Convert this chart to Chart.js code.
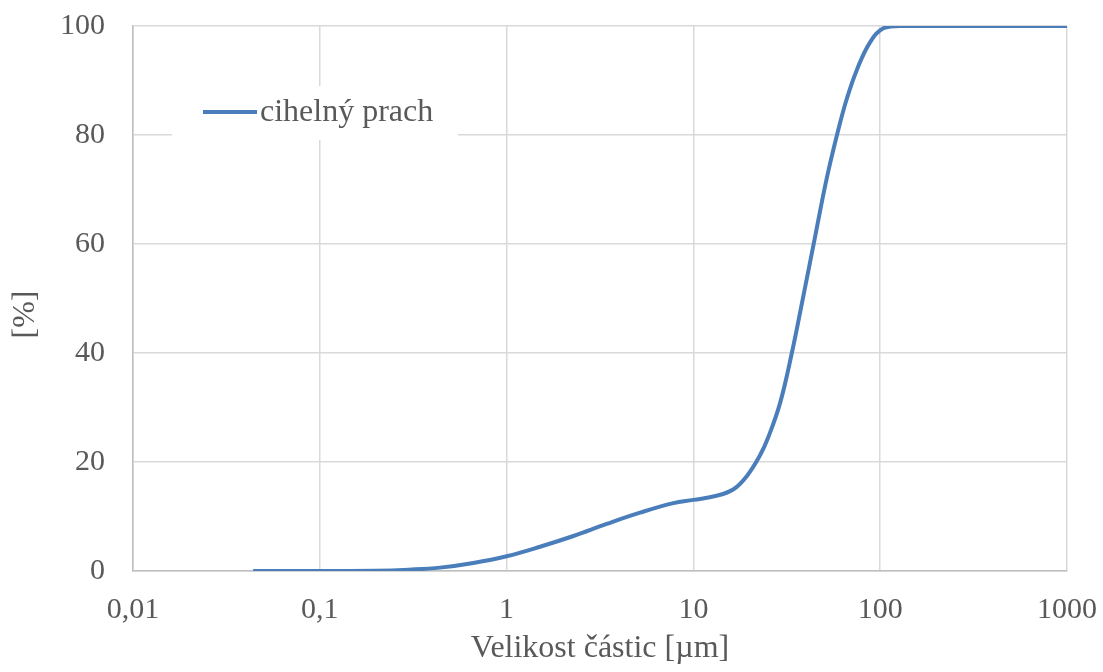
<!DOCTYPE html>
<html>
<head>
<meta charset="utf-8">
<script src="https://cdn.jsdelivr.net/npm/chart.js@4"></script>
<style>
  body { margin: 0; background: #fff; }
  #wrap { width: 1103px; height: 672px; }
</style>
</head>
<body>
<div id="wrap"><canvas id="chartPrach" width="1103" height="672"></canvas></div>
<script>
// velikost částic [µm] a propad [%]
const sizes  = [0.044, 0.1, 0.2, 0.3, 0.44, 0.664, 1, 1.51, 2.28, 3.43, 5.18, 7.81, 10, 13.3, 16.4, 19.3, 22.7, 25.2, 29.1, 33.6, 38.8, 44.8, 51.7, 59.7, 66.2, 74.9, 88.2, 104, 130, 1000];
const values = [0, 0, 0.05, 0.25, 0.62, 1.48, 2.71, 4.45, 6.42, 8.63, 10.7, 12.45, 13.05, 13.8, 15.0, 17.4, 21.2, 24.6, 30.8, 39.9, 50.5, 61.3, 72.0, 81.0, 86.6, 91.9, 97.0, 99.6, 100, 100];
const seriesName = 'cihelný prach';
const xTicks = [0.01, 0.1, 1, 10, 100, 1000];
const xTickLabels = ['0,01', '0,1', '1', '10', '100', '1000'];
const yTicks = [0, 20, 40, 60, 80, 100];

const textColor = '#595959';
const gridColor = '#d9d9d9';
const lineColor = '#4a7ebb';
const fontFamily = '"Liberation Serif", "Times New Roman", serif';

// legenda uvnitř grafu (bílý box přes mřížku)
const insideLegend = {
  id: 'insideLegend',
  afterDatasetsDraw(chart) {
    const ctx = chart.ctx;
    const ds = chart.data.datasets[0];
    ctx.save();
    ctx.fillStyle = '#fff';
    ctx.fillRect(172, 86, 286, 54);
    ctx.strokeStyle = ds.borderColor;
    ctx.lineWidth = 4;
    ctx.beginPath();
    ctx.moveTo(203, 112);
    ctx.lineTo(257, 112);
    ctx.stroke();
    ctx.fillStyle = textColor;
    ctx.font = '32px ' + fontFamily;
    ctx.textBaseline = 'middle';
    ctx.fillText(ds.label, 260, 113);
    ctx.restore();
  }
};

new Chart(document.getElementById('chartPrach'), {
  type: 'line',
  data: {
    datasets: [{
      label: seriesName,
      data: sizes.map((s, i) => ({ x: s, y: values[i] })),
      borderColor: lineColor,
      backgroundColor: lineColor,
      borderWidth: 4,
      pointRadius: 0,
      tension: 0.4,
      fill: false
    }]
  },
  options: {
    responsive: false,
    animation: false,
    layout: { padding: { top: 26, right: 36, left: 0, bottom: 0 } },
    plugins: {
      legend: { display: false },
      tooltip: { enabled: false }
    },
    scales: {
      x: {
        type: 'logarithmic',
        min: 0.01,
        max: 1000,
        afterBuildTicks: axis => { axis.ticks = xTicks.map(v => ({ value: v })); },
        afterFit: axis => {
          axis.height = 101;
          axis.paddingLeft = 0;
          axis.paddingRight = 0;
        },
        grid: { color: gridColor, lineWidth: 1.5, drawTicks: false },
        border: { color: '#bfbfbf', width: 1.5 },
        ticks: {
          color: textColor,
          font: { family: fontFamily, size: 30 },
          padding: 21,
          maxRotation: 0,
          autoSkip: false,
          callback: (v) => {
            const i = xTicks.indexOf(v);
            return i >= 0 ? xTickLabels[i] : '';
          }
        },
        title: {
          display: true,
          text: 'Velikost částic [µm]',
          color: textColor,
          font: { family: fontFamily, size: 32 },
          padding: { top: 3 }
        }
      },
      y: {
        min: 0,
        max: 100,
        afterBuildTicks: axis => { axis.ticks = yTicks.map(v => ({ value: v })); },
        afterFit: axis => {
          axis.width = 133;
          axis.paddingTop = 0;
          axis.paddingBottom = 0;
        },
        grid: { color: gridColor, lineWidth: 1.5, drawTicks: false },
        border: { color: '#bfbfbf', width: 1.5 },
        ticks: {
          color: textColor,
          font: { family: fontFamily, size: 30 },
          padding: 28
        },
        title: {
          display: true,
          // mezery za textem posunou popisek níž, jako v originálu
          text: '[%]    ',
          color: textColor,
          font: { family: fontFamily, size: 32 },
          padding: { top: 6, bottom: 0 }
        }
      }
    }
  },
  plugins: [insideLegend]
});
</script>
</body>
</html>
